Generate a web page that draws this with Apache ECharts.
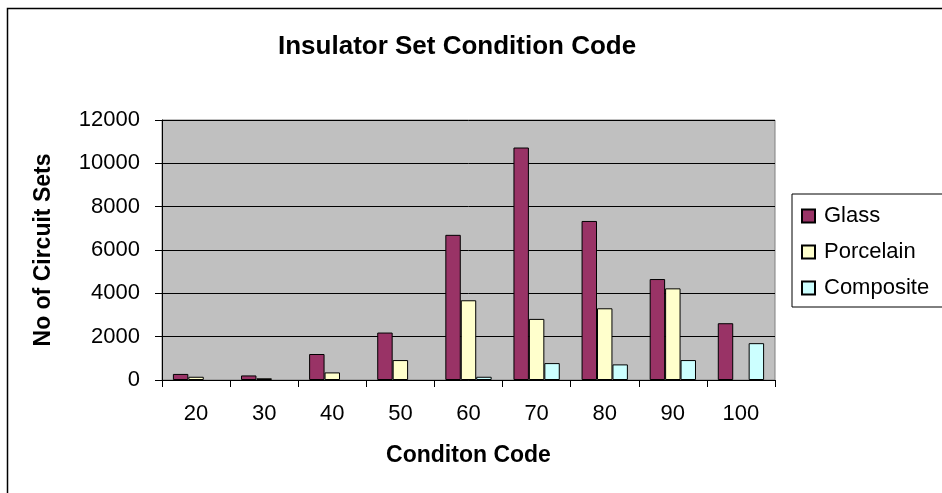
<!DOCTYPE html>
<html>
<head>
<meta charset="utf-8">
<script src="https://cdn.jsdelivr.net/npm/echarts@6/dist/echarts.min.js"></script>
<style>
  html, body { margin: 0; padding: 0; background: #fff; }
  #chart { width: 942px; height: 493px; }
</style>
</head>
<body>
<div id="chart"></div>
<script>
var categories = ['20', '30', '40', '50', '60', '70', '80', '90', '100'];
var glass = [280, 210, 1200, 2190, 6700, 10730, 7340, 4660, 2620];
var porcelain = [150, 80, 350, 920, 3680, 2820, 3310, 4230, 0];
var composite = [0, 0, 0, 0, 150, 780, 720, 920, 1700];
var yTicks = [0, 2000, 4000, 6000, 8000, 10000, 12000];

var font = '"Liberation Sans", Arial, sans-serif';

var mkSeries = function (name, values, color) {
    return {
        name: name,
        type: 'bar',
        // empty bars are not drawn at all in the original
        data: values.map(function (v) { return v === 0 ? '-' : v; }),
        barGap: '0%',
        barCategoryGap: '32%',
        itemStyle: {
            color: color,
            borderColor: '#000',
            borderWidth: 1
        }
    };
};

var myChart = echarts.init(document.getElementById('chart'));
var option = {
    animation: false,
    backgroundColor: '#fff',
    textStyle: { fontFamily: font },
    title: {
        text: 'Insulator Set Condition Code',
        left: 273,
        top: 29,
        textStyle: { fontFamily: font, fontSize: 26, fontWeight: 'bold', color: '#000' }
    },
    graphic: [{
        type: 'rect',
        shape: { x: 7.5, y: 8.5, width: 1200, height: 1200 },
        style: { fill: 'none', stroke: '#000', lineWidth: 1.5 },
        silent: true
    }],
    legend: {
        orient: 'vertical',
        left: 792,
        top: 194,
        padding: [11, 30, 8, 9],
        itemGap: 14,
        itemWidth: 13,
        itemHeight: 13,
        borderColor: '#000',
        borderWidth: 1,
        icon: 'rect',
        textStyle: { fontFamily: font, fontSize: 22, color: '#000', padding: [0, 0, 0, 4] },
        data: ['Glass', 'Porcelain', 'Composite']
    },
    grid: {
        left: 162,
        right: 167,
        top: 120,
        bottom: 113,
        show: true,
        backgroundColor: '#C0C0C0',
        borderColor: '#808080',
        borderWidth: 1
    },
    xAxis: {
        type: 'category',
        data: categories,
        name: 'Conditon Code',
        nameLocation: 'middle',
        nameGap: 64,
        nameTextStyle: { fontFamily: font, fontSize: 23, fontWeight: 'bold', color: '#000', verticalAlign: 'top' },
        axisLine: { lineStyle: { color: '#000', width: 1 } },
        axisTick: { show: true, length: 7, lineStyle: { color: '#000' } },
        axisLabel: { margin: 23, fontFamily: font, fontSize: 22, color: '#000' }
    },
    yAxis: {
        type: 'value',
        min: yTicks[0],
        max: yTicks[yTicks.length - 1],
        interval: 2000,
        name: 'No of Circuit Sets',
        nameLocation: 'middle',
        nameGap: 107,
        nameRotate: 90,
        nameTextStyle: { fontFamily: font, fontSize: 23, fontWeight: 'bold', color: '#000' },
        axisLine: { show: true, lineStyle: { color: '#000', width: 1 } },
        axisTick: { show: true, length: 7, lineStyle: { color: '#000' } },
        axisLabel: {
            margin: 22, fontFamily: font, fontSize: 22, color: '#000',
            formatter: function (v) { return String(v); }
        },
        splitLine: { show: true, lineStyle: { color: '#000', width: 1 } }
    },
    series: [
        mkSeries('Glass', glass, '#993366'),
        mkSeries('Porcelain', porcelain, '#FFFFCC'),
        mkSeries('Composite', composite, '#CCFFFF')
    ]
};
myChart.setOption(option);
</script>
</body>
</html>
